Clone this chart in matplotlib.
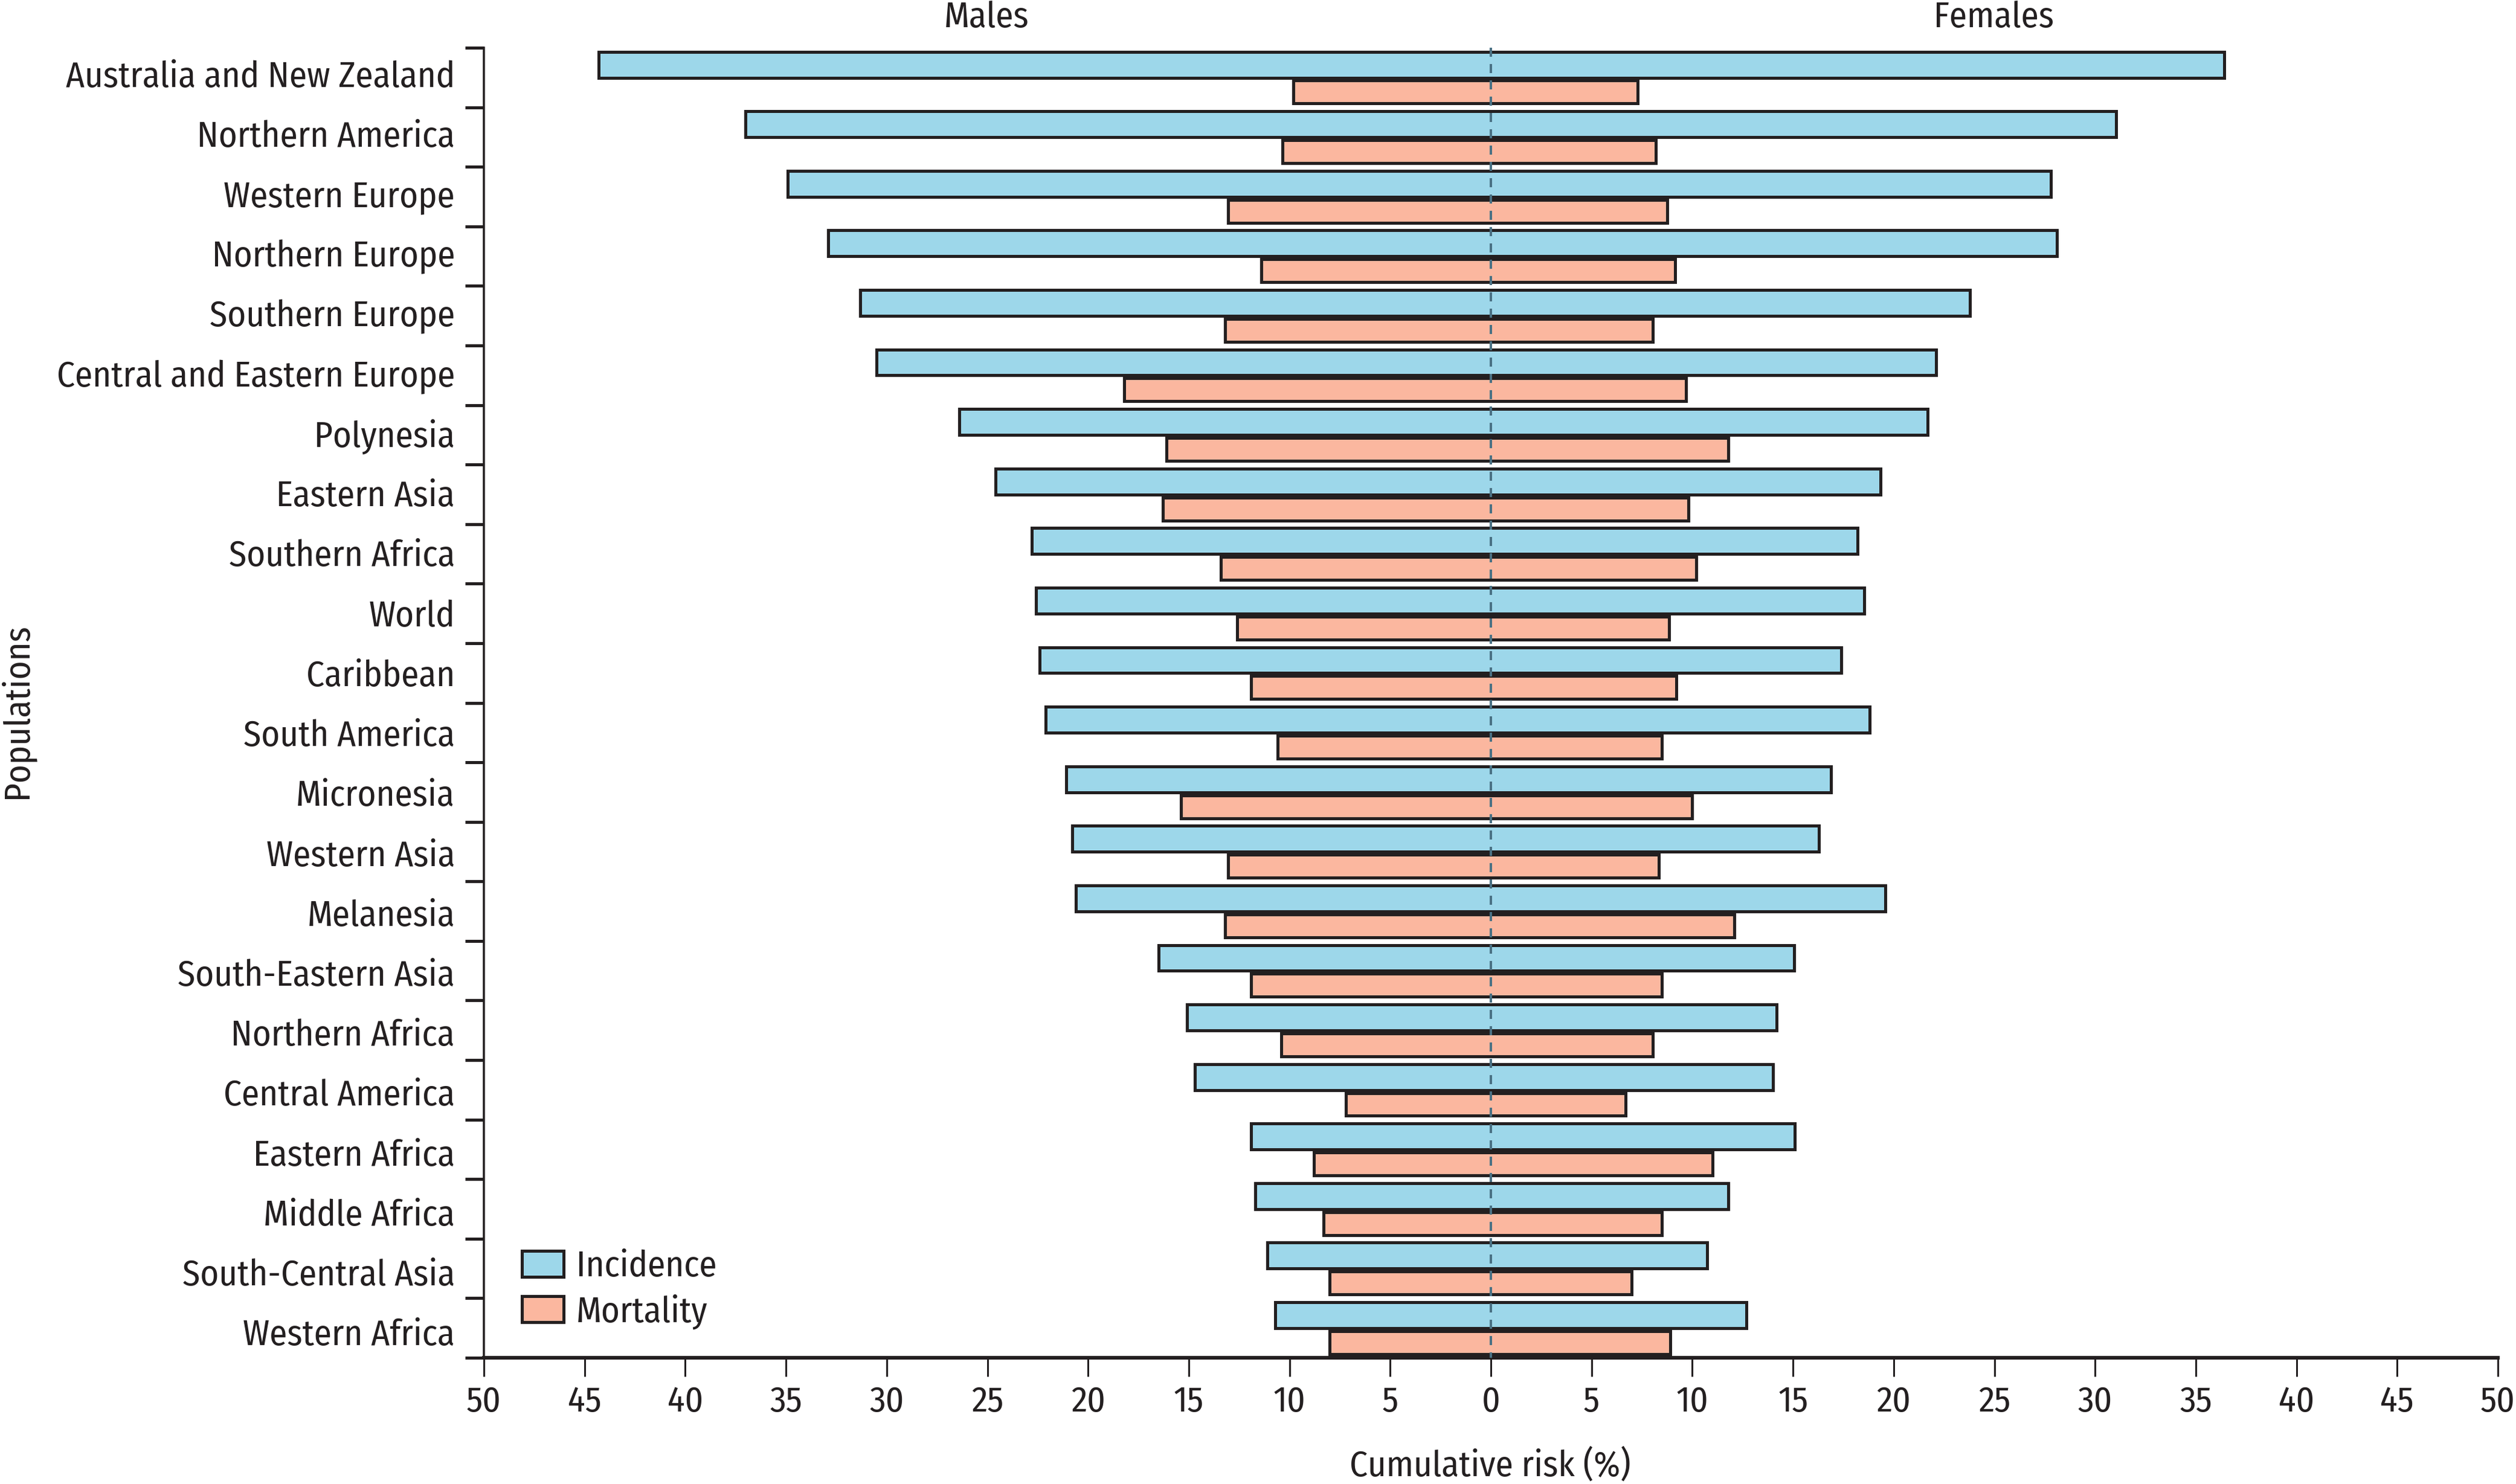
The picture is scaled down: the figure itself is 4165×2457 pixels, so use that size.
import matplotlib
matplotlib.use("Agg")
import matplotlib.pyplot as plt
from matplotlib.patches import Patch
import numpy as np

populations = ["Australia and New Zealand", "Northern America", "Western Europe", "Northern Europe",
               "Southern Europe", "Central and Eastern Europe", "Polynesia", "Eastern Asia",
               "Southern Africa", "World", "Caribbean", "South America", "Micronesia", "Western Asia",
               "Melanesia", "South-Eastern Asia", "Northern Africa", "Central America", "Eastern Africa",
               "Middle Africa", "South-Central Asia", "Western Africa"]
male_incidence = [44.3, 37.0, 34.9, 32.9, 31.3, 30.5, 26.4, 24.6, 22.8, 22.6, 22.4, 22.1, 21.1, 20.8, 20.6,
                  16.5, 15.1, 14.7, 11.9, 11.7, 11.1, 10.7]
female_incidence = [36.4, 31.05, 27.8, 28.1, 23.8, 22.1, 21.7, 19.35, 18.2, 18.55, 17.4, 18.8, 16.9, 16.3, 19.6,
                    15.05, 14.2, 14.0, 15.1, 11.8, 10.75, 12.7]
male_mortality = [9.8, 10.35, 13.05, 11.4, 13.2, 18.2, 16.1, 16.3, 13.4, 12.6, 11.9, 10.6, 15.4, 13.05, 13.2,
                  11.9, 10.4, 7.2, 8.8, 8.3, 8.0, 8.0]
female_mortality = [7.3, 8.2, 8.75, 9.15, 8.05, 9.7, 11.8, 9.8, 10.2, 8.85, 9.2, 8.5, 10.0, 8.35, 12.1,
                    8.5, 8.05, 6.7, 11.0, 8.5, 7.0, 8.9]
x_ticks = list(range(-50, 51, 5))

W, H = 4165, 2457
DPI = 100
px = 72 / DPI  # points per pixel
INK = "#231f20"
BLUE = "#9dd7ea"
SALMON = "#fbb79f"
plt.rcParams["font.family"] = ["Fira Sans Condensed", "PT Sans Narrow", "Liberation Sans", "DejaVu Sans"]
FS = 59 * px

fig = plt.figure(figsize=(W / DPI, H / DPI), dpi=DPI, facecolor="white")
L, R, T, B = 801, 4135, 79, 2248
ax = fig.add_axes([L / W, 1 - B / H, (R - L) / W, (B - T) / H])
n = len(populations)
y = np.arange(n)
mi, fi, mm, fm_ = map(np.array, (male_incidence, female_incidence, male_mortality, female_mortality))

ax.barh(y + 0.745, fm_ + mm, left=-mm, height=0.385, color=SALMON, edgecolor=INK, linewidth=5 * px, zorder=2)
ax.barh(y + 0.285, fi + mi, left=-mi, height=0.435, color=BLUE, edgecolor=INK, linewidth=5 * px, zorder=3)
ax.plot([0, 0], [0, n], color="#4a7184", lw=4 * px, dashes=(15 / 4, 12 / 4), zorder=4, solid_capstyle="butt")

ax.set_xlim(-50, 50)
ax.set_ylim(n, 0)
for s in ("top", "right"):
    ax.spines[s].set_visible(False)
ax.spines["left"].set_linewidth(3.5 * px)
ax.spines["bottom"].set_linewidth(6 * px)
ax.spines["left"].set_color(INK)
ax.spines["bottom"].set_color(INK)

ax.set_xticks(x_ticks)
ax.set_xticklabels([str(abs(v)) for v in x_ticks], fontsize=FS, color=INK)
ax.tick_params(axis="x", length=31 * px, width=3 * px, color=INK, pad=14 * px)
ax.set_yticks(np.arange(n + 1))
ax.set_yticklabels([])
ax.tick_params(axis="y", which="major", length=31 * px, width=5 * px, color=INK)
ax.set_yticks(y + 0.657 + y * 0.0063, minor=True)
ax.set_yticklabels(populations, minor=True, fontsize=FS, color=INK, va="baseline", ha="right")
ax.tick_params(axis="y", which="minor", length=0, pad=48 * px)

fig.text(1633 / W, 1 - 45 / H, "Males", fontsize=FS, color=INK, ha="center", va="baseline")
fig.text(3301 / W, 1 - 45 / H, "Females", fontsize=FS, color=INK, ha="center", va="baseline")
fig.text(2467 / W, 1 - 2443 / H, "Cumulative risk (%)", fontsize=FS, color=INK, ha="center", va="baseline")
fig.text(28 / W, 1 - 1177 / H, "Populations", fontsize=FS, color=INK, ha="center", va="center",
         rotation=90, rotation_mode="anchor")

handles = [Patch(facecolor=BLUE, edgecolor=INK, linewidth=5 * px, label="Incidence"),
           Patch(facecolor=SALMON, edgecolor=INK, linewidth=5 * px, label="Mortality")]
leg = ax.legend(handles=handles, loc="lower left", bbox_to_anchor=(864 / W, 1 - 2201 / H),
                bbox_transform=fig.transFigure, frameon=False, fontsize=FS, borderpad=0, borderaxespad=0,
                handlelength=69 / 59, handleheight=44 / 59, handletextpad=21 / 59, labelspacing=0.28)
for t in leg.get_texts():
    t.set_color(INK)

fig.savefig("out.png", dpi=DPI)
